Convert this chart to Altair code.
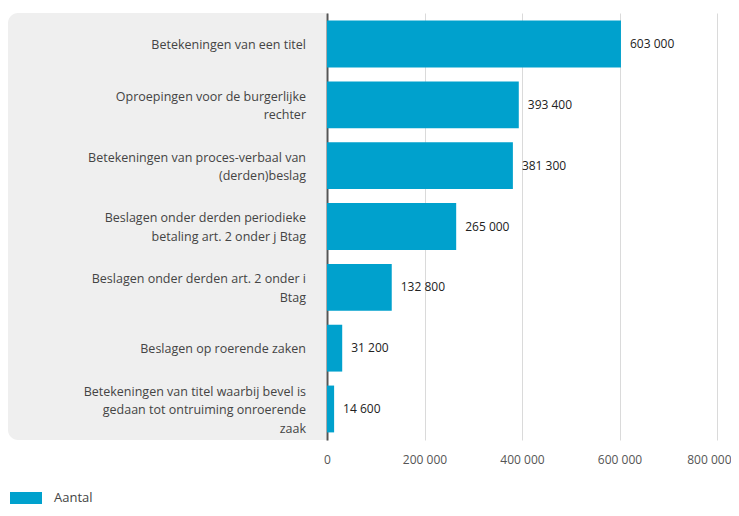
import altair as alt
import pandas as pd

categories = [
    "Betekeningen van een titel",
    "Oproepingen voor de burgerlijke\nrechter",
    "Betekeningen van proces-verbaal van\n(derden)beslag",
    "Beslagen onder derden periodieke\nbetaling art. 2 onder j Btag",
    "Beslagen onder derden art. 2 onder i\nBtag",
    "Beslagen op roerende zaken",
    "Betekeningen van titel waarbij bevel is\ngedaan tot ontruiming onroerende\nzaak",
]
values = [603000, 393400, 381300, 265000, 132800, 31200, 14600]
series = ["Aantal"] * len(categories)
x_ticks = [0, 200000, 400000, 600000, 800000]
x_domain = [0, 800000]

FONT = "Open Sans"
W, H = 390, 427
BAR = "#00a1cd"
LH = 18.5
HALF_BAND = 24.5

df = pd.DataFrame({"cat": categories, "value": values, "series": series})
fmt = "replace(format(datum.value, ','), ',', ' ')"

y_enc = alt.Y(
    "cat:N",
    sort=categories,
    scale=alt.Scale(paddingInner=0.23, paddingOuter=0.125),
    axis=alt.Axis(labels=False, ticks=False, title=None, domainColor="#555555",
                  domainWidth=2, grid=False),
)

base = alt.Chart(df)

panel = alt.Chart(pd.DataFrame({"a": [0]})).mark_rect(
    color="#efefef", cornerRadiusTopLeft=10, cornerRadiusBottomLeft=10
).encode(x=alt.value(-319), x2=alt.value(-1), y=alt.value(0), y2=alt.value(H))

bars = base.mark_bar().encode(
    y=y_enc,
    x=alt.X(
        "value:Q",
        scale=alt.Scale(domain=x_domain, nice=False),
        axis=alt.Axis(
            values=x_ticks, labelExpr=fmt, domain=False, ticks=False,
            gridColor="#dadada", gridWidth=1, labelPadding=14,
            labelFontSize=12, labelColor="#555555", labelFont=FONT, title=None,
            labelAlign=alt.condition("datum.value == 800000", alt.value("right"), alt.value("center")),
            labelOffset=alt.condition("datum.value == 800000", alt.value(14), alt.value(0)),
        ),
    ),
    color=alt.Color(
        "series:N",
        scale=alt.Scale(range=[BAR]),
        legend=alt.Legend(
            title=None, orient="none", legendX=-317, legendY=469,
            symbolType="M-1,-0.375H1V0.375H-1Z", symbolSize=1024,
            symbolStrokeWidth=0, labelFontSize=13, labelColor="#444444",
            labelFont=FONT, labelOffset=12,
        ),
    ),
)

cat_labels = base.transform_calculate(
    off=f"{HALF_BAND} - (length(split(datum.cat, '\\n')) - 1) * {LH / 2}"
).mark_text(
    align="right", baseline="middle", lineBreak="\n", fontSize=12.5,
    lineHeight=LH, color="#444444", font=FONT,
).encode(
    y=alt.Y("cat:N", sort=categories),
    yOffset=alt.YOffset("off:Q", scale=None),
    x=alt.value(-21),
    text="cat:N",
)

val_labels = base.transform_calculate(lbl=fmt).mark_text(
    align="left", baseline="middle", dx=9, fontSize=12, color="#222222", font=FONT,
).encode(y=alt.Y("cat:N", sort=categories), x="value:Q", text="lbl:N")

chart = alt.layer(panel, bars, cat_labels, val_labels).properties(
    width=W, height=H,
    autosize=alt.AutoSizeParams(type="none"),
    padding={"left": 319, "top": 5, "right": 14, "bottom": 68},
    background="white",
).configure_view(stroke=None)

chart.save("out.html", embed_options={"renderer": "svg", "actions": False})
